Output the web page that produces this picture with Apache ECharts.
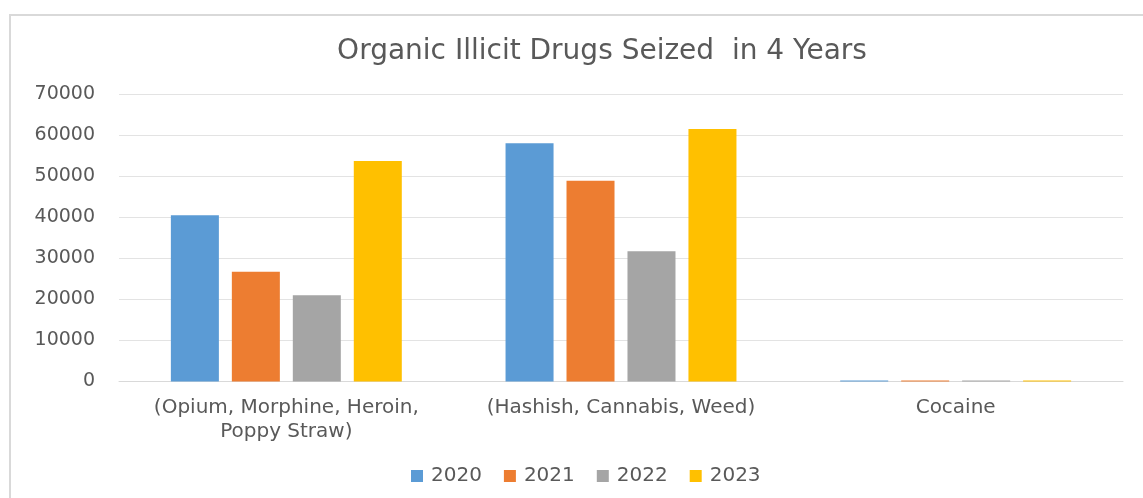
<!DOCTYPE html>
<html>
<head>
<meta charset="utf-8">
<script src="https://cdn.jsdelivr.net/npm/echarts@6/dist/echarts.min.js"></script>
<style>
html,body{margin:0;padding:0;background:#fff;}
#frame{position:absolute;left:9px;top:14px;width:1134px;height:484px;border-left:2px solid #d9d9d9;border-top:2px solid #d9d9d9;box-sizing:border-box;}
#chart{position:absolute;left:0;top:0;width:1143px;height:498px;}
</style>
</head>
<body>
<div id="frame"></div>
<div id="chart"></div>
<script>
const categories = ['(Opium, Morphine, Heroin,\nPoppy Straw)', '(Hashish, Cannabis, Weed)', 'Cocaine'];
const seriesNames = ['2020', '2021', '2022', '2023'];
const values2020 = [40500, 58000, 250];
const values2021 = [26700, 48900, 250];
const values2022 = [21000, 31700, 250];
const values2023 = [53700, 61500, 250];
const yTicks = [0, 10000, 20000, 30000, 40000, 50000, 60000, 70000];

const colors = ['#5B9BD5', '#ED7D31', '#A5A5A5', '#FFC000'];
const allValues = [values2020, values2021, values2022, values2023];
const font = 'DejaVu Sans';

const chart = echarts.init(document.getElementById('chart'));
chart.setOption({
  animation: false,
  color: colors,
  title: {
    text: 'Organic Illicit Drugs Seized  in 4 Years',
    left: 597, top: 33, textAlign: 'center',
    textStyle: {fontFamily: font, fontSize: 28, fontWeight: 'normal', color: '#595959'}
  },
  legend: {
    data: seriesNames,
    left: 406, top: 461,
    itemWidth: 12, itemHeight: 12, itemGap: 22,
    icon: 'rect',
    textStyle: {fontFamily: font, fontSize: 20, color: '#595959', padding: [0,0,0,3]}
  },
  grid: {left: 119, right: 20, top: 94, bottom: 116.5, containLabel: false},
  xAxis: {
    type: 'category',
    data: categories,
    axisLine: {lineStyle: {color: '#d9d9d9', width: 1}},
    axisTick: {show: false},
    axisLabel: {fontFamily: font, fontSize: 20, color: '#595959', margin: 14, lineHeight: 24, interval: 0, hideOverlap: false}
  },
  yAxis: {
    type: 'value',
    min: yTicks[0], max: yTicks[yTicks.length - 1], interval: 10000,
    axisLine: {show: false},
    axisTick: {show: false},
    splitLine: {lineStyle: {color: '#e3e3e3', width: 1}},
    axisLabel: {fontFamily: font, fontSize: 19, color: '#595959', margin: 24, formatter: v => String(v)}
  },
  series: seriesNames.map((n, i) => ({
    name: n, type: 'bar', data: allValues[i],
    barGap: '27%', barCategoryGap: '31%',
    itemStyle: {color: colors[i]}
  }))
});
</script>
</body>
</html>
